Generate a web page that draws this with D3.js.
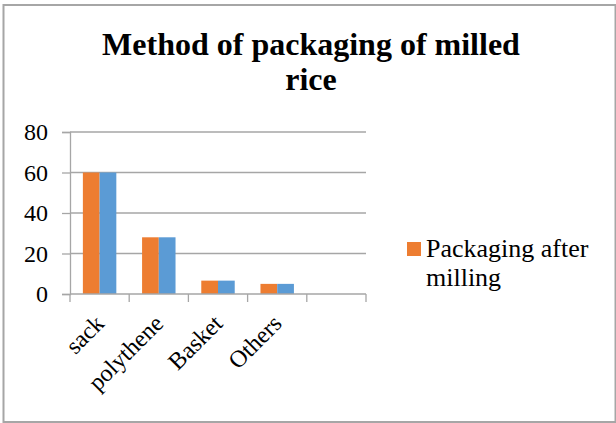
<!DOCTYPE html>
<html>
<head>
<meta charset="utf-8">
<script src="https://cdn.jsdelivr.net/npm/d3@7"></script>
<style>
  html, body { margin: 0; padding: 0; background: #fff; }
  svg { display: block; }
  text { font-family: "Liberation Serif", "Times New Roman", serif; fill: #000; }
</style>
</head>
<body>
<svg id="chart" width="616" height="423"></svg>
<script>
// Packaging methods (the last slot on the axis is left empty)
const categories = ["sack", "polythene", "Basket", "Others", ""];
const seriesNames = ["Packaging after milling", "Packaging (second series)"];
const packagingAfterMilling = [60, 28, 6.6, 5, null];
const packagingSecond = [60, 28, 6.6, 5, null];
const yTicks = [0, 20, 40, 60, 80];
const titleLines = ["Method of packaging of milled", "rice"];
const legendLines = ["Packaging after", "milling"];
const colors = ["#ED7D31", "#5B9BD5"];

const FONT = "'Liberation Serif', 'Times New Roman', serif";
const svg = d3.select("#chart");
const W = 616, H = 423;

// chart area border
svg.append("rect")
  .attr("x", 3.5).attr("y", 5).attr("width", W - 4).attr("height", H - 6)
  .attr("fill", "none").attr("stroke", "#a6a6a6").attr("stroke-width", 2);

const plot = { left: 70, right: 366, top: 132, bottom: 294 };

const x = d3.scaleBand().domain(d3.range(categories.length))
  .range([plot.left, plot.right]).padding(0);
const y = d3.scaleLinear().domain([0, 80]).range([plot.bottom, plot.top]);

const groupFrac = 0.565;
const x1 = d3.scaleBand().domain(d3.range(seriesNames.length))
  .range([0, x.bandwidth() * groupFrac]);

const gridColor = "#a6a6a6";

// horizontal gridlines
svg.append("g").selectAll("line").data(yTicks.filter(t => t > 0)).join("line")
  .attr("x1", plot.left).attr("x2", plot.right)
  .attr("y1", d => y(d)).attr("y2", d => y(d))
  .attr("stroke", gridColor).attr("stroke-width", 1.3);

// bars
const rows = categories.map((c, i) => ({ i, vals: [packagingAfterMilling[i], packagingSecond[i]] }));
const groups = svg.append("g").selectAll("g").data(rows).join("g")
  .attr("transform", d => `translate(${x(d.i) + x.bandwidth() * (1 - groupFrac) / 2},0)`);
groups.selectAll("rect").data(d => d.vals.map((v, s) => ({ v, s })).filter(e => e.v != null)).join("rect")
  .attr("x", e => x1(e.s)).attr("width", x1.bandwidth())
  .attr("y", e => y(e.v)).attr("height", e => y(0) - y(e.v))
  .attr("fill", e => colors[e.s]);

// y axis
const yAxis = d3.axisLeft(y).tickValues(yTicks).tickSize(8).tickPadding(14);
const yg = svg.append("g").attr("transform", `translate(${plot.left},0)`).call(yAxis)
  .attr("font-size", null).attr("font-family", null);
yg.select(".domain").attr("stroke", gridColor).attr("stroke-width", 1.3);
yg.selectAll(".tick line").attr("stroke", gridColor).attr("stroke-width", 1.3);
yg.selectAll(".tick text")
  .attr("font-family", FONT).attr("font-size", 24)
  .attr("dy", "0.33em").attr("fill", "#000");

// x axis with ticks at category boundaries
const xg = svg.append("g").attr("transform", `translate(0,${plot.bottom})`);
xg.append("line").attr("x1", plot.left).attr("x2", plot.right)
  .attr("stroke", gridColor).attr("stroke-width", 1.3);
const bounds = d3.range(categories.length + 1).map(i => i < categories.length ? x(i) : plot.right);
xg.selectAll(".bt").data(bounds).join("line").attr("class", "bt")
  .attr("x1", d => d).attr("x2", d => d).attr("y1", 0).attr("y2", 8)
  .attr("stroke", gridColor).attr("stroke-width", 1.3);
xg.selectAll(".lbl").data(categories.map((c, i) => ({ c, i })).filter(d => d.c)).join("text")
  .attr("class", "lbl")
  .attr("transform", d => `translate(${x(d.i) + x.bandwidth() / 2 + 6},${31}) rotate(-45)`)
  .attr("text-anchor", "end")
  .attr("font-family", FONT).attr("font-size", 24)
  .text(d => d.c);

// title
svg.append("text").attr("x", 311).attr("y", 55).attr("text-anchor", "middle")
  .attr("font-family", FONT).attr("font-size", 32).attr("font-weight", "bold")
  .selectAll("tspan").data(titleLines).join("tspan")
  .attr("x", 311).attr("dy", (d, i) => i ? 35 : 0).text(d => d);

// legend
const lg = svg.append("g");
lg.append("rect").attr("x", 407).attr("y", 242).attr("width", 14).attr("height", 14).attr("fill", colors[0]);
lg.append("text").attr("x", 426).attr("y", 256.5)
  .attr("font-family", FONT).attr("font-size", 26)
  .selectAll("tspan").data(legendLines).join("tspan")
  .attr("x", 426).attr("dy", (d, i) => i ? 29 : 0).text(d => d);
</script>
</body>
</html>
